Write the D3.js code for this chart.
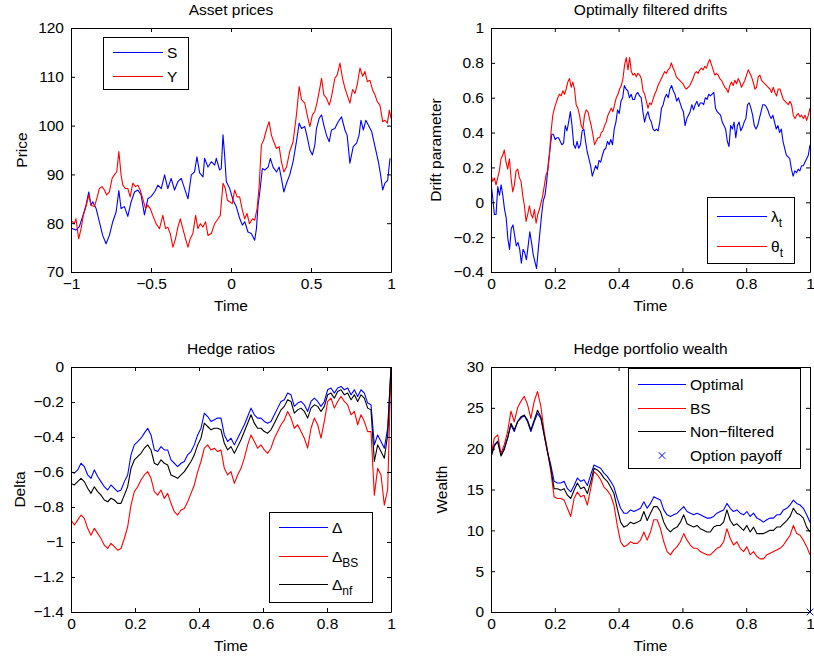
<!DOCTYPE html>
<html>
<head>
<meta charset="utf-8">
<script src="https://cdn.jsdelivr.net/npm/d3@7"></script>
<style>
  body { margin: 0; background: #fff; }
  svg { display: block; }
  text { font-family: "Liberation Sans", Arial, sans-serif; fill: #000; }
</style>
</head>
<body>
<div id="chart"></div>
<script>
// ---- data ----

// asset prices: [time, price]
let sPrices = [[-1,79],[-0.969,78.6],[-0.948,79.3],[-0.927,81.4],[-0.906,83.7],[-0.889,86.4],[-0.875,83.7],[-0.864,84.4],[-0.843,83],[-0.823,80.3],[-0.802,77.5],[-0.781,75.8],[-0.76,77.5],[-0.739,80.3],[-0.718,82.3],[-0.701,86.7],[-0.687,83],[-0.666,83.4],[-0.645,81.4],[-0.624,84.4],[-0.603,86.4],[-0.582,86.8],[-0.562,85.8],[-0.541,81.7],[-0.52,85],[-0.499,85.5],[-0.478,86.4],[-0.457,87.8],[-0.436,87.1],[-0.415,89.9],[-0.395,87.1],[-0.374,89.2],[-0.353,86.8],[-0.332,88.5],[-0.311,89.2],[-0.29,87.1],[-0.269,85],[-0.248,89.9],[-0.228,90.5],[-0.213,93.6],[-0.196,90.3],[-0.175,89.5],[-0.165,93.3],[-0.144,91.5],[-0.123,92.6],[-0.102,91.9],[-0.092,93.3],[-0.071,90.9],[-0.061,91.2],[-0.05,98.1],[-0.04,94],[-0.029,88.5],[-0.008,87.1],[0.013,84.7],[0.033,83.4],[0.054,81],[0.071,79.6],[0.086,80.3],[0.106,78.2],[0.127,77.9],[0.148,76.5],[0.159,78.9],[0.169,83.7],[0.18,86.4],[0.196,91.2],[0.211,90.9],[0.232,91.5],[0.246,93.3],[0.263,91.5],[0.284,90.5],[0.301,91.5],[0.315,89.2],[0.33,86.4],[0.347,88.2],[0.367,89.9],[0.388,92.6],[0.409,96.7],[0.426,100.5],[0.441,99.4],[0.461,99.8],[0.476,97.7],[0.493,95],[0.509,94],[0.524,96],[0.534,99.4],[0.551,101.5],[0.566,102.2],[0.58,100.1],[0.597,98],[0.614,96.7],[0.628,99.1],[0.649,99.4],[0.67,100.8],[0.691,101.8],[0.712,99.1],[0.726,98],[0.743,92.3],[0.764,95.7],[0.785,96.4],[0.8,98],[0.812,101.1],[0.827,99.1],[0.843,101.1],[0.858,100.1],[0.879,98.8],[0.9,95.7],[0.921,92.6],[0.935,89.9],[0.948,86.8],[0.962,88.2],[0.979,88.8],[0.994,93.3]];

let yPrices = [[-1,80.6],[-0.979,79.9],[-0.969,80.9],[-0.952,76.8],[-0.937,78.9],[-0.923,81.6],[-0.906,83.4],[-0.889,85.8],[-0.875,83.7],[-0.854,83.4],[-0.839,85],[-0.823,87.1],[-0.806,87.5],[-0.791,86.8],[-0.777,85.8],[-0.76,86.4],[-0.743,89.2],[-0.729,89.9],[-0.714,90.5],[-0.701,94.7],[-0.687,89.9],[-0.676,87.8],[-0.66,87.1],[-0.645,87.1],[-0.63,85.4],[-0.614,88.2],[-0.597,87.5],[-0.582,87.8],[-0.568,86.8],[-0.551,85],[-0.534,83],[-0.52,83.7],[-0.505,83],[-0.489,81.6],[-0.468,79.9],[-0.447,78.9],[-0.426,81.6],[-0.409,78.9],[-0.395,79.2],[-0.38,77.9],[-0.363,75.1],[-0.347,76.8],[-0.332,79.2],[-0.317,80.9],[-0.301,78.9],[-0.284,76.8],[-0.269,75.1],[-0.255,76.8],[-0.238,77.9],[-0.221,81.6],[-0.207,78.9],[-0.192,79.9],[-0.175,79.2],[-0.159,80.3],[-0.144,77.5],[-0.123,77.9],[-0.102,79.9],[-0.081,80.9],[-0.067,81.6],[-0.05,88.2],[-0.035,87.1],[-0.023,84.7],[-0.008,84.4],[0.008,84],[0.023,86.8],[0.038,85.4],[0.054,85.4],[0.071,82.7],[0.086,80.9],[0.1,82],[0.115,79.9],[0.134,80.9],[0.148,80.6],[0.163,83],[0.175,87.1],[0.19,96],[0.205,97.1],[0.221,99.1],[0.238,100.8],[0.253,98],[0.267,96.7],[0.284,95.3],[0.301,95.7],[0.315,92.6],[0.33,90.5],[0.347,91.5],[0.367,94.7],[0.388,96.7],[0.409,102.2],[0.426,108],[0.441,105.3],[0.461,104.6],[0.476,102.2],[0.493,99.8],[0.509,102.2],[0.524,102.9],[0.539,104.9],[0.555,107.7],[0.566,109.7],[0.58,106.3],[0.597,105.6],[0.614,104.2],[0.628,105.9],[0.649,109.7],[0.664,110.4],[0.681,112.8],[0.697,109.7],[0.712,107.7],[0.726,106.3],[0.743,104.6],[0.76,107.4],[0.775,106.6],[0.789,108.4],[0.806,111.8],[0.823,110.1],[0.837,111.1],[0.852,109],[0.868,109.3],[0.885,107.3],[0.9,106.3],[0.914,104.9],[0.931,104.2],[0.948,100.8],[0.962,101.1],[0.977,100.5],[0.99,103.2],[1,101.5]];

// filtered drifts, sampled on an even time grid over [0, 1]
let lambdaT = [0.11,0.03,-0.07,-0.07,0.09,0.04,0.1,0.04,-0.04,-0.09,-0.21,-0.27,-0.15,-0.13,-0.19,-0.25,-0.23,-0.27,-0.35,-0.27,-0.29,-0.33,-0.25,-0.17,-0.23,-0.3,-0.34,-0.38,-0.27,-0.17,-0.07,0.01,0.04,0.12,0.23,0.31,0.39,0.39,0.36,0.37,0.37,0.35,0.33,0.34,0.44,0.41,0.46,0.52,0.44,0.33,0.31,0.35,0.31,0.33,0.41,0.42,0.35,0.29,0.25,0.21,0.15,0.18,0.21,0.19,0.24,0.23,0.27,0.3,0.31,0.35,0.33,0.36,0.33,0.42,0.46,0.53,0.51,0.58,0.6,0.67,0.65,0.64,0.6,0.62,0.59,0.59,0.62,0.63,0.61,0.6,0.52,0.46,0.5,0.52,0.48,0.46,0.42,0.41,0.42,0.41,0.46,0.54,0.56,0.6,0.62,0.6,0.65,0.67,0.64,0.62,0.58,0.6,0.57,0.54,0.52,0.44,0.48,0.5,0.52,0.56,0.53,0.56,0.58,0.55,0.57,0.57,0.56,0.6,0.59,0.62,0.61,0.62,0.63,0.54,0.52,0.51,0.5,0.46,0.44,0.42,0.35,0.32,0.44,0.42,0.46,0.37,0.44,0.46,0.41,0.43,0.46,0.48,0.56,0.57,0.54,0.5,0.44,0.42,0.44,0.48,0.52,0.56,0.56,0.55,0.53,0.5,0.48,0.5,0.46,0.42,0.44,0.4,0.42,0.35,0.31,0.27,0.26,0.25,0.19,0.15,0.18,0.17,0.19,0.18,0.21,0.21,0.23,0.25,0.27,0.33];

let thetaT = [0.16,0.12,0.14,0.1,0.14,0.18,0.25,0.27,0.3,0.23,0.19,0.25,0.14,0.06,0.1,0.18,0.19,0.14,0.12,0.04,-0.02,-0.11,-0.07,-0.02,-0.07,-0.09,-0.04,-0.12,-0.07,-0.04,0,0.04,0.1,0.16,0.18,0.27,0.41,0.5,0.54,0.57,0.6,0.62,0.61,0.64,0.62,0.65,0.69,0.71,0.66,0.69,0.65,0.56,0.54,0.5,0.44,0.42,0.5,0.53,0.52,0.48,0.44,0.39,0.33,0.35,0.37,0.37,0.4,0.41,0.44,0.46,0.5,0.52,0.54,0.52,0.56,0.6,0.62,0.65,0.67,0.71,0.79,0.83,0.76,0.83,0.75,0.73,0.74,0.72,0.74,0.73,0.71,0.64,0.62,0.58,0.54,0.57,0.56,0.59,0.62,0.64,0.67,0.69,0.71,0.73,0.75,0.74,0.76,0.77,0.8,0.77,0.75,0.72,0.71,0.7,0.69,0.68,0.66,0.65,0.66,0.67,0.69,0.71,0.74,0.75,0.74,0.76,0.77,0.76,0.78,0.77,0.8,0.82,0.79,0.76,0.73,0.74,0.73,0.71,0.7,0.68,0.66,0.65,0.63,0.67,0.69,0.67,0.7,0.68,0.71,0.69,0.66,0.68,0.7,0.73,0.76,0.74,0.72,0.69,0.65,0.66,0.72,0.73,0.7,0.69,0.68,0.67,0.66,0.65,0.63,0.66,0.63,0.61,0.65,0.65,0.62,0.59,0.58,0.57,0.56,0.58,0.56,0.5,0.48,0.5,0.51,0.49,0.5,0.48,0.5,0.47,0.5,0.54];

// hedge ratios, even time grid over [0, 1]
let deltaOpt = [-0.598,-0.607,-0.588,-0.55,-0.569,-0.617,-0.636,-0.588,-0.626,-0.655,-0.684,-0.703,-0.674,-0.693,-0.712,-0.703,-0.655,-0.617,-0.502,-0.445,-0.426,-0.407,-0.378,-0.35,-0.388,-0.474,-0.483,-0.455,-0.474,-0.474,-0.531,-0.55,-0.569,-0.55,-0.54,-0.502,-0.483,-0.445,-0.388,-0.35,-0.264,-0.283,-0.311,-0.302,-0.292,-0.292,-0.388,-0.426,-0.407,-0.445,-0.407,-0.369,-0.33,-0.283,-0.235,-0.273,-0.292,-0.292,-0.311,-0.321,-0.311,-0.273,-0.235,-0.197,-0.187,-0.149,-0.159,-0.225,-0.206,-0.197,-0.216,-0.254,-0.197,-0.178,-0.197,-0.225,-0.197,-0.13,-0.12,-0.149,-0.12,-0.111,-0.13,-0.12,-0.159,-0.13,-0.168,-0.13,-0.149,-0.206,-0.216,-0.445,-0.388,-0.426,-0.464,-0.35,0];

let deltaBS = [-0.875,-0.903,-0.875,-0.846,-0.865,-0.922,-0.961,-0.922,-0.951,-0.98,-1.018,-1.037,-1.008,-1.027,-1.047,-1.037,-0.98,-0.913,-0.789,-0.712,-0.684,-0.646,-0.617,-0.598,-0.636,-0.712,-0.732,-0.703,-0.751,-0.722,-0.779,-0.827,-0.846,-0.817,-0.808,-0.77,-0.722,-0.674,-0.598,-0.54,-0.464,-0.445,-0.474,-0.464,-0.483,-0.474,-0.579,-0.617,-0.598,-0.665,-0.617,-0.579,-0.521,-0.445,-0.388,-0.426,-0.464,-0.445,-0.474,-0.493,-0.464,-0.407,-0.369,-0.33,-0.302,-0.254,-0.292,-0.35,-0.33,-0.369,-0.407,-0.464,-0.35,-0.292,-0.33,-0.407,-0.311,-0.197,-0.178,-0.235,-0.197,-0.168,-0.197,-0.216,-0.273,-0.254,-0.33,-0.273,-0.311,-0.369,-0.369,-0.732,-0.579,-0.617,-0.789,-0.7,0];

let deltaNF = [-0.665,-0.674,-0.655,-0.636,-0.655,-0.693,-0.722,-0.684,-0.712,-0.732,-0.76,-0.77,-0.75,-0.76,-0.779,-0.779,-0.732,-0.684,-0.579,-0.531,-0.512,-0.493,-0.464,-0.445,-0.474,-0.55,-0.56,-0.531,-0.55,-0.56,-0.617,-0.626,-0.636,-0.617,-0.598,-0.569,-0.54,-0.502,-0.445,-0.407,-0.321,-0.34,-0.359,-0.35,-0.35,-0.359,-0.436,-0.474,-0.455,-0.493,-0.455,-0.416,-0.369,-0.321,-0.273,-0.321,-0.35,-0.35,-0.369,-0.378,-0.359,-0.321,-0.283,-0.245,-0.225,-0.187,-0.197,-0.264,-0.245,-0.235,-0.254,-0.292,-0.235,-0.216,-0.225,-0.254,-0.225,-0.159,-0.149,-0.178,-0.14,-0.13,-0.159,-0.149,-0.187,-0.159,-0.197,-0.159,-0.178,-0.235,-0.245,-0.54,-0.445,-0.483,-0.521,-0.388,0];

// hedge portfolio wealth, even time grid over [0, 1]
let wealthOpt = [19,20.5,20.9,19.3,20.1,21.3,22.9,22.1,23.3,23.7,24.1,23.3,22.1,23.3,24.3,23.7,21.7,19.6,18,16,15.8,15.8,16,15.1,14.7,15.5,16.4,16,16.2,15.5,16.8,18,17.8,17.6,17,16.6,16,15.3,13.9,12.7,12.1,12.1,12.5,12.3,12.5,12.7,13.5,12.7,13.3,14.1,13.9,13.7,12.5,11.9,11.7,11.9,12.1,12.5,12.9,12.3,12.1,11.9,12.1,11.9,11.7,11.5,11.5,11.7,12.1,12.3,12.5,13.3,12.7,12.3,12.5,12.1,11.9,12.3,11.7,12.1,11.5,11.3,11,11.3,11.5,11.5,11.9,11.9,12.5,12.7,13.1,13.7,13.3,13.1,12.7,11.9,11];

let wealthBS = [19.2,21.3,21.7,19.4,20.5,22.1,24.6,23.3,25,25.8,26.4,25.4,23.7,25.8,27,25.2,22.1,19.8,17.2,14.1,13.9,13.9,13.7,12.7,11.7,13.9,14.7,14.1,14.3,13.1,15.1,17.2,16.8,16.2,15.3,14.9,14.3,13.1,10.6,8.6,8,8.2,8.6,8.4,8.4,8.8,9.8,8.8,9.8,11.3,11.3,10.2,8.6,7.4,7,7.6,8,8.6,9.6,8.8,8.2,7.8,7.8,7.4,7.2,7,7,7.4,7.8,8,8.6,10.2,9,8.2,8.6,7.8,7.4,8,7,7.4,6.8,6.5,6.5,7,7.2,7.4,7.6,7.8,8.2,8.8,9.4,10.6,9.6,9.4,8.8,8,7];

let wealthNF = [19,20.3,20.9,19.1,19.9,21.3,23.1,22.3,23.3,23.9,24.1,23.5,22.3,23.5,24.7,23.9,21.7,19.6,17.6,15.1,15.1,14.9,15.1,14.3,13.9,14.9,15.8,15.1,15.3,14.5,15.9,17.6,17.4,17,16.4,16,15.3,14.5,12.7,11,10.4,10.6,11,10.8,11,11.2,12.3,11.2,12.1,12.9,12.9,12.3,11,10.2,9.8,10.2,10.4,11,11.9,10.8,10.6,10.4,10.6,10.2,10,9.8,9.8,10.4,10.6,10.6,11,12.5,11.2,10.6,10.8,10.4,10,10.6,9.8,10.4,9.6,9.6,9.6,9.8,10,10,10.4,10.4,10.8,11.2,11.7,12.7,12.1,11.9,11.5,10.4,9.8];

let optionPayoff = [[1, 0]];

// tick labels
let priceTicksX = [-1, -0.5, 0, 0.5, 1];
let priceTicksY = [70, 80, 90, 100, 110, 120];
let unitTicksX = [0, 0.2, 0.4, 0.6, 0.8, 1];
let driftTicksY = [-0.4, -0.2, 0, 0.2, 0.4, 0.6, 0.8, 1];
let deltaTicksY = [-1.4, -1.2, -1, -0.8, -0.6, -0.4, -0.2, 0];
let wealthTicksY = [0, 5, 10, 15, 20, 25, 30];

// ---- drawing ----
let blue = "#0000ff", red = "#ff0000", black = "#000000";
let fontSize = "15.5px";
let fmt = d3.format("");  // d3 default uses the real minus sign

let svg = d3.select("#chart").append("svg")
    .attr("width", 814)
    .attr("height", 659);

// put an evenly sampled series on [0, 1]
function onGrid(values) {
    let n = values.length - 1;
    return values.map((v, i) => [i / n, v]);
}

function drawPanel(p) {
    let x = d3.scaleLinear().domain(p.xDomain).range([p.left, p.right]);
    let y = d3.scaleLinear().domain(p.yDomain).range([p.bottom, p.top]);
    let g = svg.append("g");

    let clipId = "clip" + p.id;
    g.append("clipPath").attr("id", clipId)
        .append("rect")
        .attr("x", p.left).attr("y", p.top - 1)
        .attr("width", p.right - p.left).attr("height", p.bottom - p.top + 2);

    let line = d3.line().x(d => x(d[0])).y(d => y(d[1]));

    p.series.forEach(s => {
        g.append("path")
            .datum(s.data)
            .attr("fill", "none")
            .attr("stroke", s.color)
            .attr("stroke-width", 1.1)
            .attr("stroke-linejoin", "round")
            .attr("clip-path", `url(#${clipId})`)
            .attr("d", line);
    });

    if (p.markers) {
        p.markers.forEach(m => {
            m.data.forEach(d => {
                g.append("path")
                    .attr("d", d3.symbol(d3.symbolX, 30)())
                    .attr("transform", `translate(${x(d[0])},${y(d[1])})`)
                    .attr("fill", "none")
                    .attr("stroke", m.color)
                    .attr("stroke-width", 1);
            });
        });
    }

    // axes: inward ticks on all four sides, MATLAB box style
    let tl = 4;
    g.append("g").attr("transform", `translate(0,${p.bottom})`)
        .call(d3.axisBottom(x).tickValues(p.xTicks).tickSize(-tl).tickSizeOuter(0).tickPadding(6).tickFormat(fmt));
    g.append("g").attr("transform", `translate(0,${p.top})`)
        .call(d3.axisTop(x).tickValues(p.xTicks).tickSize(-tl).tickSizeOuter(0).tickFormat(""));
    g.append("g").attr("transform", `translate(${p.left},0)`)
        .call(d3.axisLeft(y).tickValues(p.yTicks).tickSize(-tl).tickSizeOuter(0).tickPadding(7).tickFormat(fmt));
    g.append("g").attr("transform", `translate(${p.right},0)`)
        .call(d3.axisRight(y).tickValues(p.yTicks).tickSize(-tl).tickSizeOuter(0).tickFormat(""));

    g.selectAll(".domain").attr("stroke", "#000").attr("stroke-width", 1);
    g.selectAll(".tick line").attr("stroke", "#000");
    g.selectAll(".tick text")
        .style("font-family", "'Liberation Sans', Arial, sans-serif")
        .style("font-size", fontSize)
        .attr("fill", "#000");

    // title and axis labels
    g.append("text")
        .attr("x", (p.left + p.right) / 2).attr("y", p.top - 13)
        .attr("text-anchor", "middle")
        .style("font-size", fontSize)
        .text(p.title);
    g.append("text")
        .attr("x", (p.left + p.right) / 2).attr("y", p.bottom + 39)
        .attr("text-anchor", "middle")
        .style("font-size", fontSize)
        .text("Time");
    g.append("text")
        .attr("transform", `translate(${p.left - p.yLabelOffset},${(p.top + p.bottom) / 2}) rotate(-90)`)
        .attr("text-anchor", "middle")
        .style("font-size", fontSize)
        .text(p.yLabel);

    // legend
    let L = p.legend;
    g.append("rect")
        .attr("x", L.x + 0.5).attr("y", L.y + 0.5).attr("width", L.w).attr("height", L.h)
        .attr("fill", "#fff").attr("stroke", "#000").attr("stroke-width", 1);
    L.items.forEach((it, i) => {
        let ly = Math.round(L.y + L.first + i * L.step) + 0.5;
        if (it.marker) {
            g.append("path")
                .attr("d", d3.symbol(d3.symbolX, 30)())
                .attr("transform", `translate(${L.x + L.lineX0 + (L.lineX1 - L.lineX0) / 2},${ly})`)
                .attr("fill", "none").attr("stroke", it.color).attr("stroke-width", 1);
        } else {
            g.append("line")
                .attr("x1", L.x + L.lineX0).attr("x2", L.x + L.lineX1)
                .attr("y1", ly).attr("y2", ly)
                .attr("stroke", it.color).attr("stroke-width", 1.2);
        }
        let t = g.append("text")
            .attr("x", L.x + L.lineX1 + 4).attr("y", ly + 5)
            .style("font-size", fontSize);
        t.append("tspan").text(it.label);
        if (it.sub) {
            t.append("tspan").attr("dy", 5).style("font-size", "12px").text(it.sub);
        }
    });
}

drawPanel({
    id: 1, left: 71, right: 391, top: 28, bottom: 272,
    xDomain: [-1, 1], yDomain: [70, 120],
    xTicks: priceTicksX, yTicks: priceTicksY,
    title: "Asset prices", yLabel: "Price", yLabelOffset: 44,
    series: [
        {data: sPrices, color: blue},
        {data: yPrices, color: red}
    ],
    legend: {x: 103, y: 37, w: 85, h: 52, first: 15, step: 24, lineX0: 10, lineX1: 60,
        items: [{label: "S", color: blue}, {label: "Y", color: red}]}
});

drawPanel({
    id: 2, left: 491, right: 810, top: 28, bottom: 272,
    xDomain: [0, 1], yDomain: [-0.4, 1],
    xTicks: unitTicksX, yTicks: driftTicksY,
    title: "Optimally filtered drifts", yLabel: "Drift parameter", yLabelOffset: 50,
    series: [
        {data: onGrid(lambdaT), color: blue},
        {data: onGrid(thetaT), color: red}
    ],
    legend: {x: 707, y: 197, w: 87, h: 66, first: 19, step: 30, lineX0: 10, lineX1: 60,
        items: [{label: "λ", sub: "t", color: blue}, {label: "θ", sub: "t", color: red}]}
});

drawPanel({
    id: 3, left: 71, right: 391, top: 367, bottom: 612,
    xDomain: [0, 1], yDomain: [-1.4, 0],
    xTicks: unitTicksX, yTicks: deltaTicksY,
    title: "Hedge ratios", yLabel: "Delta", yLabelOffset: 46,
    series: [
        {data: onGrid(deltaOpt), color: blue},
        {data: onGrid(deltaBS), color: red},
        {data: onGrid(deltaNF), color: black}
    ],
    legend: {x: 269, y: 512, w: 103, h: 90, first: 15, step: 28.5, lineX0: 10, lineX1: 59,
        items: [{label: "Δ", color: blue}, {label: "Δ", sub: "BS", color: red}, {label: "Δ", sub: "nf", color: black}]}
});

drawPanel({
    id: 4, left: 491, right: 810, top: 367, bottom: 612,
    xDomain: [0, 1], yDomain: [0, 30],
    xTicks: unitTicksX, yTicks: wealthTicksY,
    title: "Hedge portfolio wealth", yLabel: "Wealth", yLabelOffset: 44,
    series: [
        {data: onGrid(wealthOpt), color: blue},
        {data: onGrid(wealthBS), color: red},
        {data: onGrid(wealthNF), color: black}
    ],
    markers: [{data: optionPayoff, color: blue}],
    legend: {x: 628, y: 368, w: 172, h: 100, first: 16, step: 23.5, lineX0: 10, lineX1: 58,
        items: [{label: "Optimal", color: blue}, {label: "BS", color: red},
                {label: "Non\u2212filtered", color: black}, {label: "Option payoff", color: blue, marker: true}]}
});
</script>
</body>
</html>
